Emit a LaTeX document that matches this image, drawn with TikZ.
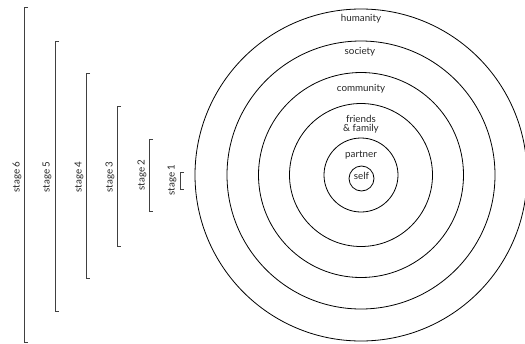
\documentclass[tikz,border=0pt]{standalone}
\usepackage{fontspec}
\setmainfont{Lato}
\begin{document}
\begin{tikzpicture}[x=1pt,y=-1pt,
  ring/.style={draw=black,line width=0.8pt},
  lbl/.style={font=\fontsize{9.8}{10.5}\selectfont,inner sep=0pt,align=center,text=black!85},
  stagelbl/.style={font=\fontsize{9.8}{10.5}\selectfont,inner sep=0pt,rotate=90,text=black!85},
  bracketline/.style={draw=black!75,line width=0.8pt}]
\useasboundingbox (0,0) rectangle (525,343);
% circles
\coordinate (c) at (361,175);
\draw[ring] (c) circle[radius=166];
\draw[ring] (c) circle[radius=134];
\draw[ring] (c) circle[radius=102.5];
\draw[ring] (c) circle[radius=71.5];
\draw[ring] (c) circle[radius=37];
\draw[ring] (361.5,178.5) circle[radius=12.5];
% circle labels
\node[lbl] (humanity) at (361,19) {humanity};
\node[lbl] (society) at (360,52) {society};
\node[lbl] (community) at (361,89) {community};
\node[lbl] (friends) at (361,124) {friends\\[-1pt]\& family};
\node[lbl] (partner) at (361,155) {partner};
\node[lbl] (self) at (361.5,176) {self};
% brackets
\foreach \x/\t/\b in {24/7/342, 55/41/311, 86/73/278, 117/106/246, 149/139/211, 180/172/189}{
  \draw[bracketline] (\x+4,\t) -- (\x,\t) -- (\x,\b) -- (\x+4,\b);
}
% stage labels
\node[stagelbl] (s6) at (17,177) {stage 6};
\node[stagelbl] (s5) at (47,177) {stage 5};
\node[stagelbl] (s4) at (79,177) {stage 4};
\node[stagelbl] (s3) at (110,177) {stage 3};
\node[stagelbl] (s2) at (142,175) {stage 2};
\node[stagelbl] (s1) at (172,180) {stage 1};
\end{tikzpicture}
\end{document}
